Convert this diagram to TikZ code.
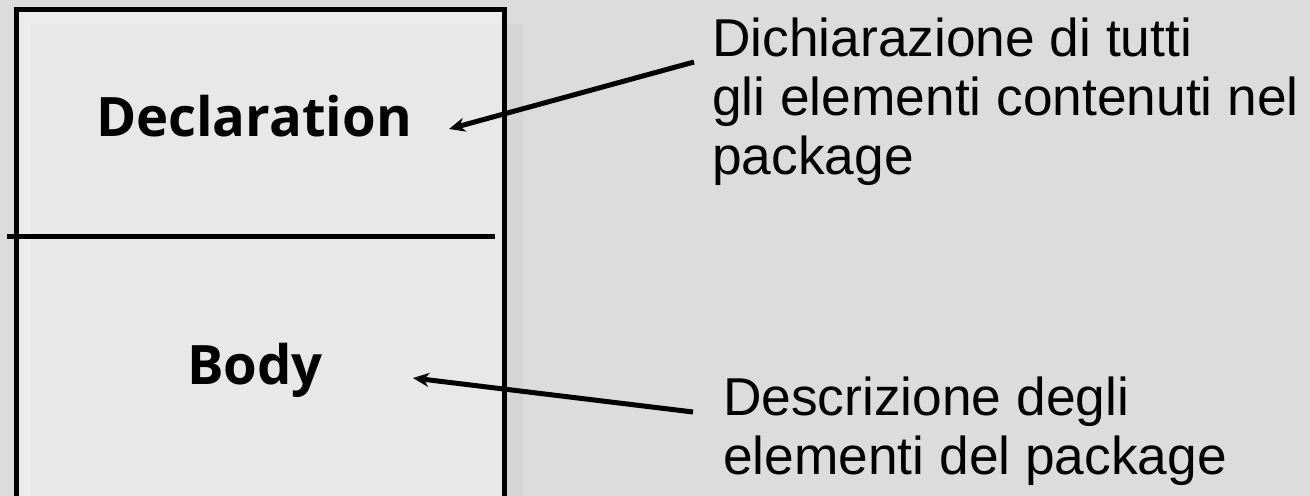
\documentclass[tikz,border=0pt]{standalone}
\usepackage{fontspec}
\setmainfont{Liberation Sans}
\newfontfamily\labelfont{Open Sans}
\usetikzlibrary{arrows.meta}
\definecolor{pagebg}{HTML}{DCDCDC}
\definecolor{boxfill}{HTML}{E8E8E8}
\definecolor{boxhi}{HTML}{ECECEC}
\definecolor{boxshadow}{HTML}{D5D5D5}
\tikzset{
  border/.style={line width=5bp, black},
  partlabel/.style={anchor=base, inner sep=0pt, font=\labelfont\bfseries\fontsize{54.6}{60}\selectfont},
  note/.style={anchor=north west, inner sep=0pt, align=left, font=\fontsize{53.5}{59}\selectfont},
  pointer/.style={line width=5bp, -{Stealth[length=16bp,width=14bp,inset=5bp]}}
}
\begin{document}
\begin{tikzpicture}[x=1bp,y=-1bp]
\useasboundingbox (0,0) rectangle (1310,496);
\fill[pagebg] (0,0) rectangle (1310,496);
% package box with its drop shadow
\fill[boxshadow] (505,24) rectangle (523,510);
\fill[boxfill] (16.5,9.5) rectangle (504.5,510);
\fill[boxhi] (19,12) rectangle (502,24);
\fill[boxhi] (19,12) rectangle (31,510);
\draw[border] (16.5,510) -- (16.5,9.5) -- (504.5,9.5) -- (504.5,510);
% separator between declaration and body
\draw[border] (7,237) -- (495,237);
% compartment labels
\node[partlabel] (decl) at (254,137) {Declaration};
\node[partlabel] (body) at (255,384) {Body};
% explanatory notes
\node[note] (declnote) at (712,18) {Dichiarazione di tutti\\gli elementi contenuti nel\\package};
\node[note] (bodynote) at (723,377) {Descrizione degli\\elementi del package};
% pointer ends
\coordinate (declfrom) at (694,62);
\coordinate (declto) at (449,129);
\coordinate (bodyfrom) at (693,412);
\coordinate (bodyto) at (413,378);
\draw[pointer] (declfrom) -- (declto);
\draw[pointer] (bodyfrom) -- (bodyto);
\end{tikzpicture}
\end{document}
